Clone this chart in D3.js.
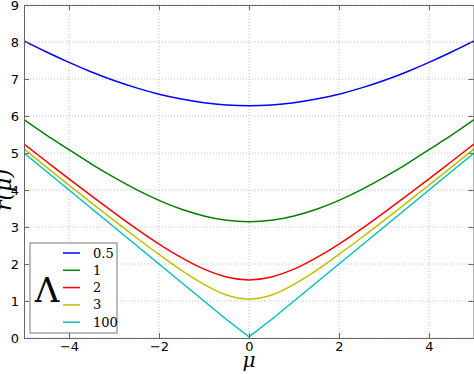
<!DOCTYPE html>
<html><head><meta charset="utf-8">
<script src="https://cdn.jsdelivr.net/npm/d3@7"></script>
<style>body{margin:0;background:#fff}svg{display:block}</style>
</head><body>
<script>
const mu = [-5,-4.5,-4,-3.5,-3,-2.5,-2,-1.5,-1,-0.5,0,0.5,1,1.5,2,2.5,3,3.5,4,4.5,5];
const r05 = [8.03,7.73,7.45,7.19,6.96,6.76,6.59,6.46,6.36,6.30,6.28,6.30,6.36,6.46,6.59,6.76,6.96,7.19,7.45,7.73,8.03];
const r1 = [5.90,5.48,5.09,4.70,4.34,4.01,3.72,3.48,3.30,3.18,3.14,3.18,3.30,3.48,3.72,4.01,4.34,4.70,5.09,5.48,5.90];
const r2 = [5.24,4.77,4.30,3.84,3.39,2.95,2.54,2.17,1.86,1.65,1.57,1.65,1.86,2.17,2.54,2.95,3.39,3.84,4.30,4.77,5.24];
const r3 = [5.11,4.62,4.13,3.65,3.18,2.71,2.26,1.83,1.45,1.16,1.05,1.16,1.45,1.83,2.26,2.71,3.18,3.65,4.13,4.62,5.11];
const r100 = [5.00,4.50,4.00,3.50,3.00,2.50,2.00,1.50,1.00,0.50,0.03,0.50,1.00,1.50,2.00,2.50,3.00,3.50,4.00,4.50,5.00];
const seriesNames = ["0.5","1","2","3","100"];
const seriesColors = ["#0000ff","#008000","#ff0000","#bfbf00","#00bfbf"];
const seriesValues = [r05,r1,r2,r3,r100];
const xTicks = [-4,-2,0,2,4];
const yTicks = [0,1,2,3,4,5,6,7,8,9];

const W=474,H=374;
const svg=d3.select("body").append("svg").attr("width",W).attr("height",H);
const x=d3.scaleLinear().domain([-5,5]).range([24,474]);
const y=d3.scaleLinear().domain([0,9]).range([338,5]);
const fmt=d=>d<0?"\u2212"+Math.abs(d):String(d);

// grid
const g=svg.append("g");
g.selectAll("line.gx").data(xTicks).join("line")
 .attr("x1",d=>x(d)).attr("x2",d=>x(d)).attr("y1",y(0)).attr("y2",y(9))
 .attr("stroke","#b0b0b0").attr("stroke-width",0.8).attr("stroke-dasharray","1,2");
g.selectAll("line.gy").data(yTicks).join("line")
 .attr("y1",d=>y(d)).attr("y2",d=>y(d)).attr("x1",x(-5)).attr("x2",x(5))
 .attr("stroke","#b0b0b0").attr("stroke-width",0.8).attr("stroke-dasharray","1,2");

// lines
const smooth=d3.line().x((d,i)=>x(mu[i])).y(d=>y(d)).curve(d3.curveNatural);
const straight=d3.line().x((d,i)=>x(mu[i])).y(d=>y(d)).curve(d3.curveLinear);
svg.append("clipPath").attr("id","c").append("rect")
 .attr("x",x(-5)).attr("y",y(9)).attr("width",x(5)-x(-5)).attr("height",y(0)-y(9));
seriesValues.forEach((vals,k)=>{
  const gen = k===4 ? straight : smooth;
  svg.append("path").attr("d",gen(vals)).attr("fill","none")
   .attr("stroke",seriesColors[k]).attr("stroke-width",1.5).attr("clip-path","url(#c)");
});

// axes
const axB=d3.axisBottom(x).tickValues(xTicks).tickSize(-5).tickPadding(4).tickFormat(fmt);
const axT=d3.axisTop(x).tickValues(xTicks).tickSize(-5).tickFormat("");
const axL=d3.axisLeft(y).tickValues(yTicks).tickSize(-5).tickPadding(5).tickFormat(fmt);
const axR=d3.axisRight(y).tickValues(yTicks).tickSize(-5).tickFormat("");
function style(sel){
  sel.selectAll("path,line").attr("stroke","#666").attr("stroke-width",1);
  sel.selectAll("text").attr("font-family","DejaVu Sans").attr("font-size",13).attr("fill","#000");
}
svg.append("g").attr("transform",`translate(0,${y(0)})`).call(axB).call(style);
svg.append("g").attr("transform",`translate(0,${y(9)})`).call(axT).call(style);
svg.append("g").attr("transform",`translate(${x(-5)},0)`).call(axL).call(style);
svg.append("g").attr("transform",`translate(${x(5)-0.5},0)`).call(axR).call(style);
svg.selectAll(".domain").attr("stroke","#666");

// axis labels
svg.append("text").attr("x",x(0)).attr("y",367).attr("text-anchor","middle")
 .attr("font-family","DejaVu Serif").attr("font-style","italic").attr("font-size",20).text("\u03bc");
svg.append("text").attr("transform","translate(11,190) rotate(-90)").attr("text-anchor","middle")
 .attr("font-family","DejaVu Serif").attr("font-style","italic").attr("font-size",22).text("r(\u03bc)");

// legend
const lg=svg.append("g");
lg.append("rect").attr("x",30).attr("y",243).attr("width",87).attr("height",90)
 .attr("fill","#fff").attr("stroke","#777").attr("stroke-width",1);
lg.append("text").attr("x",47).attr("y",302).attr("text-anchor","middle")
 .attr("font-family","DejaVu Serif").attr("font-size",34).text("\u039b");
seriesNames.forEach((n,k)=>{
  const yy=253+k*17.3;
  lg.append("line").attr("x1",63).attr("x2",80).attr("y1",yy).attr("y2",yy)
   .attr("stroke",seriesColors[k]).attr("stroke-width",1.5);
  lg.append("text").attr("x",93).attr("y",yy+4.5).attr("font-family","DejaVu Serif")
   .attr("font-size",13).text(n);
});
</script>
</body></html>
